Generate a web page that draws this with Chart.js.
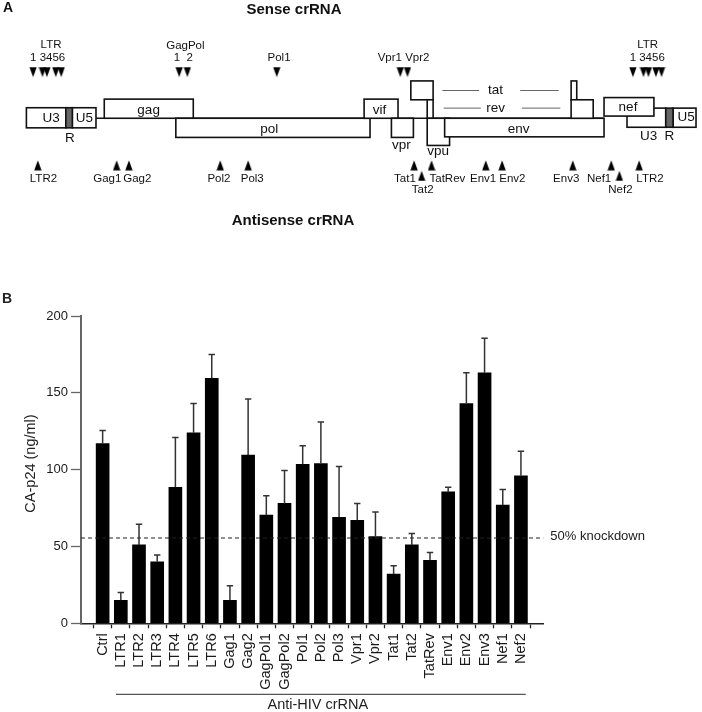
<!DOCTYPE html>
<html>
<head>
<meta charset="utf-8">
<script src="https://cdn.jsdelivr.net/npm/chart.js@4.4.1/dist/chart.umd.min.js"></script>
<style>
    html, body { margin: 0; padding: 0; background: #fff; }
    #wrap { position: relative; width: 702px; height: 712px; overflow: hidden; }
    #mapBox { position: absolute; left: 0; top: 0; width: 702px; height: 235px; }
    #barBox { position: absolute; left: 0; top: 280px; width: 702px; height: 432px; }
</style>
</head>
<body>
<div id="wrap">
    <div id="mapBox"><canvas id="GenomeMap" width="702" height="235"></canvas></div>
    <div id="barBox"><canvas id="KnockdownChart" width="702" height="432"></canvas></div>
</div>
<script>
// ---- panel B data ----
var guideNames = ['Ctrl', 'LTR1', 'LTR2', 'LTR3', 'LTR4', 'LTR5', 'LTR6', 'Gag1', 'Gag2',
    'GagPol1', 'GagPol2', 'Pol1', 'Pol2', 'Pol3', 'Vpr1', 'Vpr2', 'Tat1', 'Tat2', 'TatRev',
    'Env1', 'Env2', 'Env3', 'Nef1', 'Nef2'];
var p24Mean = [117, 15, 51, 40, 88.5, 124, 159.5, 15, 109.5, 70.5, 78, 103.5, 104, 69, 67, 56.5,
    32, 51, 41, 85.5, 143, 163, 77, 96];
var p24Sd = [8.5, 5, 13.5, 4.5, 32.5, 19, 15.5, 9.5, 36.5, 12.5, 21.5, 12, 27, 33, 11, 16,
    5.5, 7.5, 5, 3, 20, 22.5, 10, 16];
var yTicks = [0, 50, 100, 150, 200];
var knockdownLevel = 55.5;

// ---- panel A data (schematic map positions) ----
// sense crRNA sites, arrowheads pointing down
var senseSites = [28.5, 38, 42.5, 51.5, 57, 176.7, 185, 275.7, 401, 408.3, 637, 647.7, 652.7, 660.3, 666];
// antisense crRNA sites, arrowheads pointing up; second list sits one row lower
var antisenseSites = [33.3, 113.3, 125.7, 218.3, 246.7, 415, 432.7, 487.7, 504.3, 576, 615, 643.3];
var antisenseLowSites = [422.7, 623.3];
var senseLabels = [['LTR', 46.7, 41.7], ['1 3456', 43.3, 55], ['GagPol', 183, 42.5], ['1  2', 181, 55],
    ['Pol1', 278, 55], ['Vpr1 Vpr2', 404.3, 55], ['LTR', 652, 41.7], ['1 3456', 651.5, 55]];
var antisenseLabels = [['LTR2', 39, 181.7], ['Gag1', 103.8, 181.7], ['Gag2', 134.2, 181.7],
    ['Pol2', 217, 181.7], ['Pol3', 250.8, 181.7], ['Tat1', 405.7, 181.7], ['Tat2', 423.7, 192.7],
    ['TatRev', 448.8, 181.7], ['Env1', 485, 181.7], ['Env2', 514.7, 181.7], ['Env3', 569.3, 181.7],
    ['Nef1', 602.7, 181.7], ['Nef2', 624.3, 192.7], ['LTR2', 654.3, 181.7]];
// [x1, x2, y1, y2] in drawing order
var geneBoxes = [
    [21.7, 61.7, 107.3, 128.3], [68.3, 92.3, 107.3, 128.3],
    [100.7, 191, 98.3, 118.3], [173.3, 370.3, 118.3, 138.3], [364.3, 398.7, 98.3, 118.3],
    [392, 414.3, 118.3, 138.3], [411.7, 434.3, 79.3, 99], [428.3, 434.3, 99, 118.3],
    [428.3, 451, 118.3, 146.7], [446, 607.7, 118.3, 137.7], [574.3, 580, 79.3, 99],
    [574.3, 596.7, 99, 118.3], [631, 670.3, 107.7, 127.7], [677.7, 701, 107.7, 127.7],
    [607.7, 658.3, 96.7, 116]
];
var rBoxes = [[61.7, 68.3, 107.3, 128.3], [670.3, 677.7, 107.7, 127.7]];
var geneLabels = [['U3', 46.7, 118], ['U5', 80.5, 118], ['R', 65.7, 139], ['gag', 145.7, 109.5],
    ['pol', 268, 129.5], ['vif', 380, 109.5], ['vpr', 402, 147], ['vpu', 439.5, 153],
    ['tat', 497.7, 89], ['rev', 497.7, 108], ['env', 521, 129.5], ['nef', 632, 106.5],
    ['U3', 653, 137], ['R', 674, 137], ['U5', 691, 117]];
var genomeLine = [92.3, 607.7, 118.3];
var spliceLines = [[443.7, 481, 89.3], [522.7, 561.7, 89.3], [445, 482.7, 107.7], [524.3, 563.3, 107.7]];

var FONT = '"Liberation Sans", Arial, Helvetica, sans-serif';

function makeArrowhead(down) {
    var c = document.createElement('canvas');
    c.width = 8; c.height = 11;
    var g = c.getContext('2d');
    g.fillStyle = '#000';
    g.beginPath();
    if (down) { g.moveTo(0.3, 0.5); g.lineTo(7.7, 0.5); g.lineTo(4, 10.5); }
    else { g.moveTo(4, 0.5); g.lineTo(7.7, 10.5); g.lineTo(0.3, 10.5); }
    g.closePath();
    g.fill();
    return c;
}

drawGenomeMap();
function drawGenomeMap() {
    var ctx = document.getElementById('GenomeMap');
    var downHead = makeArrowhead(true);
    var upHead = makeArrowhead(false);

    var mapPlugin = {
        id: 'mapPlugin',
        beforeDatasetsDraw: function (chart) {
            var c = chart.ctx;
            var X = function (v) { return chart.scales.x.getPixelForValue(v); };
            var Y = function (v) { return chart.scales.y.getPixelForValue(v); };
            c.save();
            // genome line
            c.strokeStyle = '#111';
            c.lineWidth = 1.6;
            c.beginPath();
            c.moveTo(X(genomeLine[0]), Y(genomeLine[2]));
            c.lineTo(X(genomeLine[1]), Y(genomeLine[2]));
            c.stroke();
            geneBoxes.forEach(function (b) {
                c.fillStyle = '#fff';
                c.fillRect(X(b[0]), Y(b[2]), X(b[1]) - X(b[0]), Y(b[3]) - Y(b[2]));
                c.strokeRect(X(b[0]), Y(b[2]), X(b[1]) - X(b[0]), Y(b[3]) - Y(b[2]));
            });
            rBoxes.forEach(function (b) {
                c.fillStyle = '#666';
                c.fillRect(X(b[0]), Y(b[2]), X(b[1]) - X(b[0]), Y(b[3]) - Y(b[2]));
                c.strokeRect(X(b[0]), Y(b[2]), X(b[1]) - X(b[0]), Y(b[3]) - Y(b[2]));
            });
            c.strokeStyle = '#666';
            c.lineWidth = 1;
            spliceLines.forEach(function (l) {
                c.beginPath();
                c.moveTo(X(l[0]), Y(l[2]));
                c.lineTo(X(l[1]), Y(l[2]));
                c.stroke();
            });
            c.fillStyle = '#111';
            c.textAlign = 'center';
            c.textBaseline = 'middle';
            c.font = '13.5px ' + FONT;
            geneLabels.forEach(function (t) { c.fillText(t[0], X(t[1]), Y(t[2])); });
            c.font = '11.5px ' + FONT;
            senseLabels.concat(antisenseLabels).forEach(function (t) { c.fillText(t[0], X(t[1]), Y(t[2])); });
            c.font = 'bold 15px ' + FONT;
            c.fillText('Sense crRNA', 294, 10);
            c.fillText('Antisense crRNA', 293, 220.5);
            c.textAlign = 'left';
            c.font = 'bold 14px ' + FONT;
            c.fillText('A', 3, 8);
            c.restore();
        }
    };

    new Chart(ctx, {
        type: 'scatter',
        data: {
            datasets: [{
                data: senseSites.map(function (s) { return { x: s, y: 70 }; }),
                pointStyle: downHead
            }, {
                data: antisenseSites.map(function (s) { return { x: s, y: 167.5 }; }),
                pointStyle: upHead
            }, {
                data: antisenseLowSites.map(function (s) { return { x: s, y: 178.5 }; }),
                pointStyle: upHead
            }]
        },
        options: {
            responsive: false,
            animation: false,
            events: [],
            layout: { padding: 0 },
            plugins: { legend: { display: false }, tooltip: { enabled: false } },
            scales: {
                x: { type: 'linear', display: false, min: 0, max: 702 },
                y: { type: 'linear', display: false, min: 0, max: 235, reverse: true }
            }
        },
        plugins: [mapPlugin]
    });
}

drawKnockdownChart();
function drawKnockdownChart() {
    var ctx = document.getElementById('KnockdownChart');

    var extrasPlugin = {
        id: 'extras',
        afterDatasetsDraw: function (chart) {
            var c = chart.ctx;
            var xs = chart.scales.x, ys = chart.scales.y;
            var area = chart.chartArea;
            c.save();
            // error bars (upper only)
            c.strokeStyle = '#333';
            c.lineWidth = 1.5;
            p24Mean.forEach(function (m, i) {
                var x = xs.getPixelForValue(i);
                var y0 = ys.getPixelForValue(m);
                var y1 = ys.getPixelForValue(m + p24Sd[i]);
                c.beginPath();
                c.moveTo(x, y0);
                c.lineTo(x, y1);
                c.moveTo(x - 3.2, y1);
                c.lineTo(x + 3.2, y1);
                c.stroke();
            });
            // 50% knockdown line
            var yk = ys.getPixelForValue(knockdownLevel);
            c.strokeStyle = '#222';
            c.lineWidth = 1.2;
            c.setLineDash([4, 3]);
            c.beginPath();
            c.moveTo(area.left, yk);
            c.lineTo(area.right, yk);
            c.stroke();
            c.setLineDash([]);
            c.fillStyle = '#222';
            c.font = '13px ' + FONT;
            c.textAlign = 'left';
            c.textBaseline = 'middle';
            c.fillText('50% knockdown', area.right + 7, yk - 1.5);
            // bracket under the anti-HIV guides
            var bx0 = xs.getPixelForValue(1) - 4.8;
            var bx1 = xs.getPixelForValue(guideNames.length - 1) + 4.8;
            c.strokeStyle = '#555';
            c.lineWidth = 1.2;
            c.beginPath();
            c.moveTo(bx0, 414.3);
            c.lineTo(bx1, 414.3);
            c.stroke();
            c.font = '14.5px ' + FONT;
            c.textAlign = 'center';
            c.textBaseline = 'alphabetic';
            c.fillText('Anti-HIV crRNA', (bx0 + bx1) / 2 - 3, 428.5);
            // y axis title
            c.save();
            c.translate(31, 183.5);
            c.rotate(-Math.PI / 2);
            c.textBaseline = 'middle';
            c.font = '14.5px ' + FONT;
            c.fillText('CA-p24 (ng/ml)', 0, 0);
            c.restore();
            // panel letter
            c.textAlign = 'left';
            c.textBaseline = 'middle';
            c.font = 'bold 14px ' + FONT;
            c.fillText('B', 2, 19);
            c.restore();
        }
    };

    new Chart(ctx, {
        type: 'bar',
        data: {
            datasets: [{
                data: p24Mean.map(function (v, i) { return { x: i, y: v }; }),
                backgroundColor: '#000',
                borderWidth: 0,
                barThickness: 13
            }]
        },
        options: {
            responsive: false,
            animation: false,
            events: [],
            layout: { padding: { top: 36, right: 158.7, left: 0, bottom: 0 } },
            plugins: { legend: { display: false }, tooltip: { enabled: false } },
            scales: {
                x: {
                    type: 'linear',
                    min: -0.66,
                    max: 23.7,
                    afterBuildTicks: function (scale) {
                        scale.ticks = guideNames.map(function (n, i) { return { value: i }; });
                    },
                    afterFit: function (scale) { scale.height = 88.7; },
                    grid: { drawOnChartArea: false, drawTicks: true, tickLength: 5, tickColor: '#222', tickWidth: 1.3 },
                    border: { color: '#222', width: 1.6 },
                    ticks: {
                        autoSkip: false,
                        minRotation: 90,
                        maxRotation: 90,
                        padding: 5,
                        color: '#1a1a1a',
                        font: { family: FONT, size: 14.5 },
                        callback: function (v) { return guideNames[v]; }
                    }
                },
                y: {
                    min: 0,
                    max: 200,
                    afterBuildTicks: function (scale) {
                        scale.ticks = yTicks.map(function (t) { return { value: t }; });
                    },
                    afterFit: function (scale) { scale.width = 81; },
                    grid: { drawOnChartArea: false, drawTicks: true, tickLength: 10, tickColor: '#666', tickWidth: 1.3 },
                    border: { color: '#666', width: 2 },
                    ticks: {
                        padding: 3,
                        color: '#1a1a1a',
                        font: { family: FONT, size: 13 }
                    }
                }
            }
        },
        plugins: [extrasPlugin]
    });
}
</script>
</body>
</html>
